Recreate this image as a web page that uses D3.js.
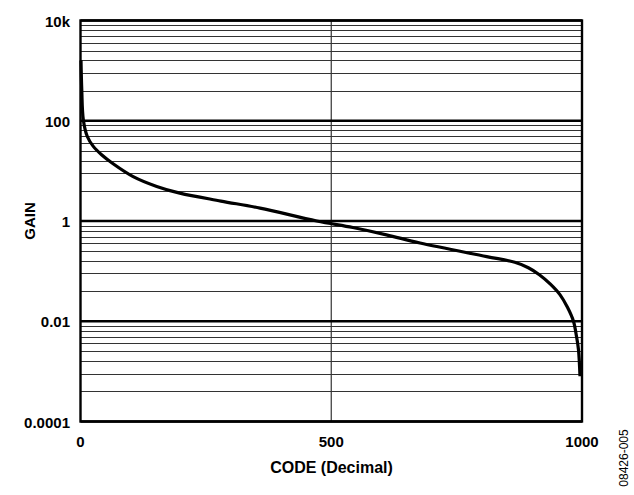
<!DOCTYPE html>
<html>
<head>
<meta charset="utf-8">
<script src="https://cdn.jsdelivr.net/npm/d3@7"></script>
<style>
  body { margin: 0; background: #fff; }
  text { font-family: "Liberation Sans", Arial, sans-serif; }
</style>
</head>
<body>
<div id="main"></div>
<script>
// values
var codes = [1, 2.5, 5.6, 13.6, 25.5, 42, 65, 105, 152, 198, 280, 358, 471, 543, 610, 677, 810, 866, 893, 915, 937, 956, 971, 983, 989, 993, 996]
var gains = [1600, 420, 105, 48.5, 30.8, 21, 13.9, 7.7, 4.9, 3.6, 2.5, 1.81, 1.0, 0.74, 0.53, 0.363, 0.195, 0.15, 0.117, 0.085, 0.055, 0.034, 0.019, 0.01, 0.005, 0.0027, 0.0008]

var xTicks = [0, 500, 1000]
var yMajor = [0.0001, 0.01, 1, 100, 10000]
var yLabels = ["0.0001", "0.01", "1", "100", "10k"]
// minor grid: each labelled span is drawn as one "decade", so lines sit at base * k^2
var minorK = [2, 3, 4, 5, 6, 7, 8, 9]

var W = 634, H = 495
var pLeft = 80.5, pRight = 582, pTop = 20.5, pBottom = 421.5

var svg = d3.select("#main").append("svg").attr("width", W).attr("height", H)

var x = d3.scaleLinear().domain([0, 1000]).range([pLeft, pRight])
var y = d3.scaleLog().domain([0.0001, 10000]).range([pBottom, pTop])

// minor grid lines
var minorVals = []
yMajor.slice(0, -1).forEach(b => minorK.forEach(k => minorVals.push(b * k * k)))

svg.append("g").selectAll("line")
  .data(minorVals)
  .enter()
  .append("line")
  .attr("x1", pLeft).attr("x2", pRight)
  .attr("y1", d => Math.round(y(d)) + 0.5)
  .attr("y2", d => Math.round(y(d)) + 0.5)
  .attr("stroke", "#333")
  .attr("stroke-width", 1.2)

// vertical grid at 500
svg.append("line")
  .attr("x1", x(500)).attr("x2", x(500))
  .attr("y1", pTop).attr("y2", pBottom)
  .attr("stroke", "#333")
  .attr("stroke-width", 1.2)

// major grid lines
svg.append("g").selectAll("line")
  .data(yMajor)
  .enter()
  .append("line")
  .attr("x1", pLeft).attr("x2", pRight)
  .attr("y1", d => y(d))
  .attr("y2", d => y(d))
  .attr("stroke", "#000")
  .attr("stroke-width", 2.4)

// frame
svg.append("rect")
  .attr("x", pLeft).attr("y", pTop)
  .attr("width", pRight - pLeft).attr("height", pBottom - pTop)
  .attr("fill", "none")
  .attr("stroke", "#000")
  .attr("stroke-width", 2.4)

// curve
var pts = codes.map((c, i) => [c, gains[i]])
var line = d3.line()
  .x(d => x(d[0]))
  .y(d => y(d[1]))
  .curve(d3.curveCatmullRom.alpha(0.5))

svg.append("path")
  .datum(pts)
  .attr("d", line)
  .attr("fill", "none")
  .attr("stroke", "#000")
  .attr("stroke-width", 3.2)
  .attr("stroke-linejoin", "round")

// y labels
svg.append("g").selectAll("text")
  .data(yMajor)
  .enter()
  .append("text")
  .attr("x", 70)
  .attr("y", d => y(d) + 6)
  .attr("text-anchor", "end")
  .attr("font-size", "15px")
  .attr("font-weight", "bold")
  .text((d, i) => yLabels[i])

// x labels
svg.append("g").selectAll("text")
  .data(xTicks)
  .enter()
  .append("text")
  .attr("x", d => x(d))
  .attr("y", 446.5)
  .attr("text-anchor", "middle")
  .attr("font-size", "15px")
  .attr("font-weight", "bold")
  .text(d => d)

svg.append("text")
  .attr("x", 331.5)
  .attr("y", 473)
  .attr("text-anchor", "middle")
  .attr("font-size", "16px")
  .attr("font-weight", "bold")
  .text("CODE (Decimal)")

svg.append("text")
  .attr("transform", "translate(35,221) rotate(-90)")
  .attr("text-anchor", "middle")
  .attr("font-size", "15px")
  .attr("font-weight", "bold")
  .text("GAIN")

svg.append("text")
  .attr("transform", "translate(628,458) rotate(-90)")
  .attr("text-anchor", "middle")
  .attr("font-size", "12px")
  .text("08426-005")
</script>
</body>
</html>
